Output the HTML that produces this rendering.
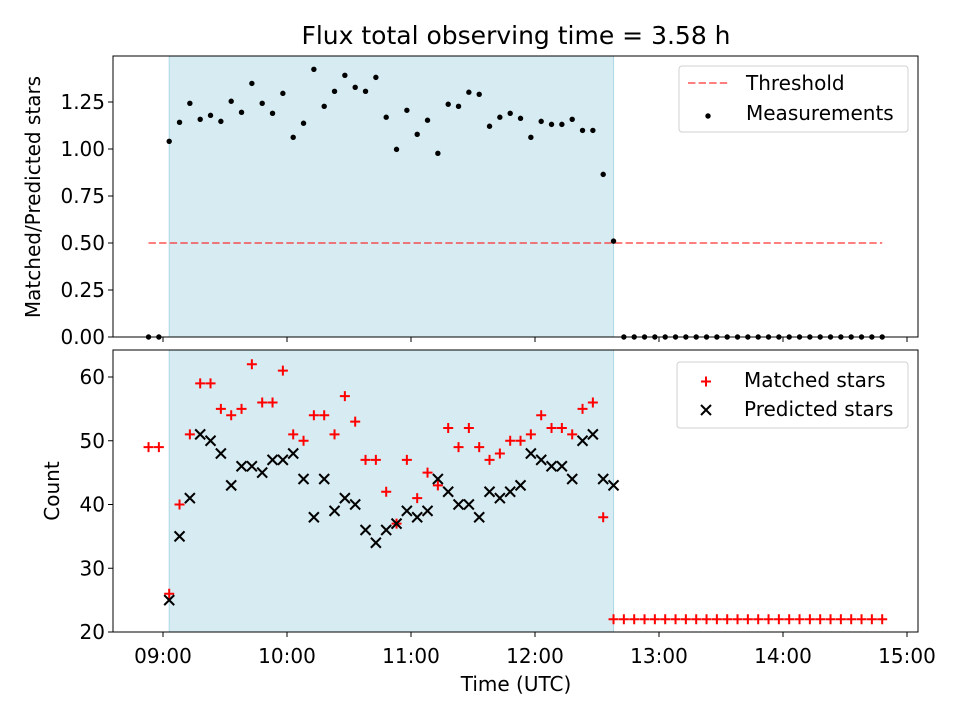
<!DOCTYPE html>
<html><head><meta charset="utf-8"><style>
body{margin:0;background:#fff}
svg text{font-family:"DejaVu Sans","Liberation Sans",sans-serif;fill:#000}
</style></head><body>
<svg id="c" width="960" height="720" xmlns="http://www.w3.org/2000/svg"></svg>
<script>
const ratioVals=[0,0,1.041,1.142,1.243,1.158,1.179,1.147,1.254,1.195,1.349,1.243,1.190,1.296,1.062,1.137,1.424,1.227,1.307,1.392,1.328,1.307,1.381,1.169,0.998,1.206,1.078,1.153,0.977,1.238,1.227,1.302,1.291,1.121,1.169,1.190,1.163,1.062,1.147,1.131,1.131,1.158,1.099,1.099,0.865,0.51,0,0,0,0,0,0,0,0,0,0,0,0,0,0,0,0,0,0,0,0,0,0,0,0,0,0];
const matchedVals=[49,49,26,40,51,59,59,55,54,55,62,56,56,61,51,50,54,54,51,57,53,47,47,42,37,47,41,45,43,52,49,52,49,47,48,50,50,51,54,52,52,51,55,56,38,22,22,22,22,22,22,22,22,22,22,22,22,22,22,22,22,22,22,22,22,22,22,22,22,22,22,22];
const predictedVals=[null,null,25,35,41,51,50,48,43,46,46,45,47,47,48,44,38,44,39,41,40,36,34,36,37,39,38,39,44,42,40,40,38,42,41,42,43,48,47,46,46,44,50,51,44,43];
const startMin=-7, stepMin=5;
const threshold=0.5;
const shadeStartIdx=2, shadeEndIdx=45;
const xTickHours=[0,1,2,3,4,5,6];
const xTickLabels=["09:00","10:00","11:00","12:00","13:00","14:00","15:00"];
const topTicks=[0,0.25,0.5,0.75,1.0,1.25];
const topTickLabels=["0.00","0.25","0.50","0.75","1.00","1.25"];
const botTicks=[20,30,40,50,60];

const NS="http://www.w3.org/2000/svg";
const svg=document.getElementById('c');
function el(tag,a,parent){const e=document.createElementNS(NS,tag);for(const k in a)e.setAttribute(k,a[k]);(parent||svg).appendChild(e);return e;}
const FS='20px', TFS='25px';
const L=113,R=918;
const xs=h=>163+h*124;
const tIdx=i=>(startMin+i*stepMin)/60;
const T={top:56,bot:337,y:v=>337-v*188};
const B={top:350,bot:632,y:v=>632-(v-20)*6.375};

let t=el('text',{x:516,y:44,'font-size':TFS,'text-anchor':'middle'});t.textContent='Flux total observing time = 3.58 h';


function panel(P,name){
  const g=el('g',{});
  
  const sh=el('rect',{x:xs(tIdx(shadeStartIdx)),y:P.top,width:xs(tIdx(shadeEndIdx))-xs(tIdx(shadeStartIdx)),height:P.bot-P.top,fill:'#add8e6','fill-opacity':0.5,stroke:'#add8e6','stroke-width':1},g);
  
  return g;
}
function frame(P,g){
  el('rect',{x:L,y:P.top,width:R-L,height:P.bot-P.top,fill:'none',stroke:'#000','stroke-width':1},g);
  xTickHours.forEach(h=>{
    el('line',{x1:xs(h),x2:xs(h),y1:P.bot,y2:P.bot+5,stroke:'#000'},g);
  });
}
const gt=panel(T,'top-panel');
const th=el('line',{x1:xs(tIdx(0)),x2:xs(tIdx(ratioVals.length-1)),y1:T.y(threshold),y2:T.y(threshold),stroke:'#ff0000','stroke-opacity':0.5,'stroke-width':2,'stroke-dasharray':'7.4,3.2'},gt);

ratioVals.forEach((v,i)=>{
  const c=el('circle',{cx:xs(tIdx(i)),cy:T.y(v),r:2.7,fill:'#000'},gt);
  
});
frame(T,gt);
topTicks.forEach((v,k)=>{
  el('line',{x1:L-5,x2:L,y1:T.y(v),y2:T.y(v),stroke:'#000'},gt);
  const tx=el('text',{x:L-8,y:T.y(v)+7,'font-size':FS,'text-anchor':'end'},gt);tx.textContent=topTickLabels[k];
});
t=el('text',{x:0,y:0,'font-size':FS,'text-anchor':'middle',transform:'translate(40,197) rotate(-90)'});t.textContent='Matched/Predicted stars';


const gb=panel(B,'bottom-panel');
matchedVals.forEach((v,i)=>{
  const x=xs(tIdx(i)),y=B.y(v);
  const p=el('path',{d:`M${x-5},${y}H${x+5}M${x},${y-5}V${y+5}`,stroke:'#ff0000','stroke-width':2},gb);
  
});
predictedVals.forEach((v,i)=>{
  if(v===null)return;
  const x=xs(tIdx(i)),y=B.y(v);
  const p=el('path',{d:`M${x-5},${y-5}L${x+5},${y+5}M${x-5},${y+5}L${x+5},${y-5}`,stroke:'#000','stroke-width':2},gb);
  
});
frame(B,gb);
botTicks.forEach(v=>{
  el('line',{x1:L-5,x2:L,y1:B.y(v),y2:B.y(v),stroke:'#000'},gb);
  const tx=el('text',{x:L-8,y:B.y(v)+7,'font-size':FS,'text-anchor':'end'},gb);tx.textContent=v;
});
xTickHours.forEach((h,k)=>{
  const tx=el('text',{x:xs(h),y:B.bot+31,'font-size':FS,'text-anchor':'middle'},gb);tx.textContent=xTickLabels[k];
});
t=el('text',{x:0,y:0,'font-size':FS,'text-anchor':'middle',transform:'translate(59,491) rotate(-90)'});t.textContent='Count';

t=el('text',{x:516,y:691,'font-size':FS,'text-anchor':'middle'});t.textContent='Time (UTC)';


let lg=el('g',{});

el('rect',{x:679,y:66,width:229,height:66,rx:3,fill:'#fff','fill-opacity':0.8,stroke:'#d0d0d0'},lg);
el('line',{x1:688,x2:728,y1:83,y2:83,stroke:'#ff0000','stroke-opacity':0.5,'stroke-width':2,'stroke-dasharray':'7.4,3.2'},lg);
el('circle',{cx:708,cy:116,r:2.7,fill:'#000'},lg);
t=el('text',{x:746,y:90,'font-size':FS},lg);t.textContent='Threshold';
t=el('text',{x:746,y:120,'font-size':FS},lg);t.textContent='Measurements';
lg=el('g',{});

el('rect',{x:677,y:362,width:231,height:66,rx:3,fill:'#fff','fill-opacity':0.8,stroke:'#d0d0d0'},lg);
el('path',{d:'M701,381.5H711M706,376.5V386.5',stroke:'#ff0000','stroke-width':2},lg);
el('path',{d:'M701,405L711,415M701,415L711,405',stroke:'#000','stroke-width':2},lg);
t=el('text',{x:744,y:387,'font-size':FS},lg);t.textContent='Matched stars';
t=el('text',{x:744,y:416,'font-size':FS},lg);t.textContent='Predicted stars';
</script>
</body></html>
